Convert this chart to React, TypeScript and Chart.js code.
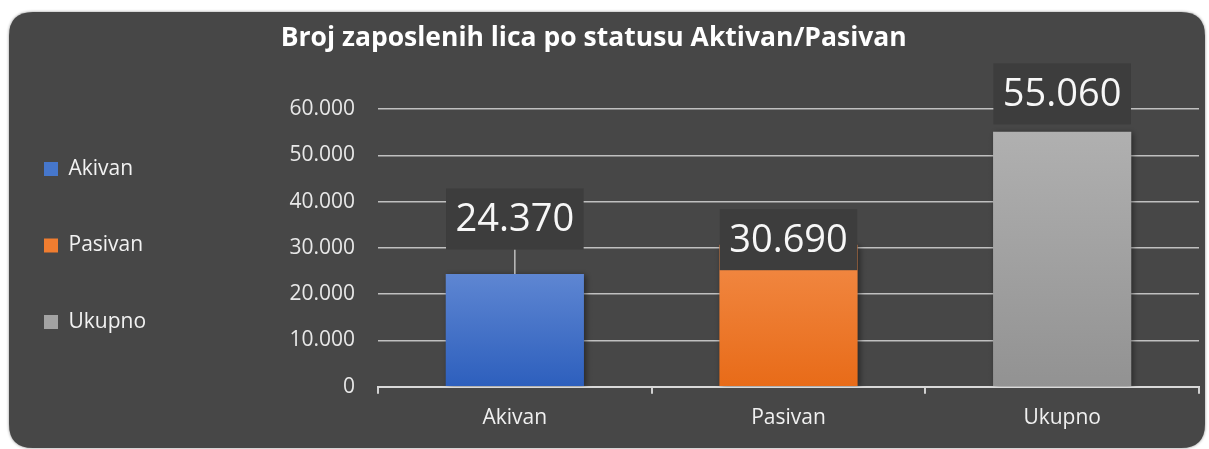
import React, { useEffect, useRef } from 'react';
import { Chart, registerables } from 'chart.js';

Chart.register(...registerables);

const categories = ['Akivan', 'Pasivan', 'Ukupno'];
const values = [24370, 30690, 55060];
const yTickLabels = ['0', '10.000', '20.000', '30.000', '40.000', '50.000', '60.000'];

const gradientTop = ['#5e86d2', '#f28b47', '#b0b0b0'];
const gradientBottom = ['#2d5fbd', '#e86b18', '#929292'];
const legendColors = ['#4677cc', '#f07d30', '#a3a3a3'];
// label box centre distance above bar top (px)
const labelOffsets = [55, 5, 38];

const LEGEND_PAD = 55.5;
const LEGEND_FONT = 21;
const PAD_LEFT = -11.5;
const PLOT_LEFT = 378;

const fmt = (v: number) => String(v).replace(/\B(?=(\d{3})+(?!\d))/g, '.');

function roundRectPath(ctx: CanvasRenderingContext2D, x: number, y: number, w: number, h: number, r: number) {
  ctx.beginPath();
  ctx.moveTo(x + r, y);
  ctx.lineTo(x + w - r, y);
  ctx.quadraticCurveTo(x + w, y, x + w, y + r);
  ctx.lineTo(x + w, y + h - r);
  ctx.quadraticCurveTo(x + w, y + h, x + w - r, y + h);
  ctx.lineTo(x + r, y + h);
  ctx.quadraticCurveTo(x, y + h, x, y + h - r);
  ctx.lineTo(x, y + r);
  ctx.quadraticCurveTo(x, y, x + r, y);
  ctx.closePath();
}

const bgPlugin = {
  id: 'bgPlugin',
  beforeDraw(chart: any) {
    const { ctx, width, height } = chart;
    ctx.save();
    ctx.fillStyle = '#ffffff';
    ctx.fillRect(0, 0, width, height);
    ctx.shadowColor = 'rgba(0,0,0,0.45)';
    ctx.shadowBlur = 3;
    roundRectPath(ctx, 9, 12, 1196, 436, 24);
    ctx.fillStyle = '#474747';
    ctx.fill();
    ctx.restore();
  },
};

const labelPlugin = {
  id: 'labelPlugin',
  beforeDatasetsDraw(chart: any) {
    const ctx = chart.ctx;
    ctx.save();
    ctx.shadowColor = 'rgba(0,0,0,0.45)';
    ctx.shadowBlur = 6;
    ctx.shadowOffsetX = 2;
    ctx.shadowOffsetY = 1;
  },
  afterDatasetsDraw(chart: any) {
    const ctx = chart.ctx;
    ctx.restore();
    const meta = chart.getDatasetMeta(0);
    ctx.save();
    ctx.font = '38px "Open Sans"';
    meta.data.forEach((bar: any, i: number) => {
      const text = fmt(values[i]);
      const tw = ctx.measureText(text).width;
      const bw = tw + 19;
      const bh = 61;
      const cx = bar.x;
      const cy = bar.y - labelOffsets[i];
      const top = cy - bh / 2;
      const bottom = cy + bh / 2;
      if (bar.y - bottom > 12) {
        ctx.strokeStyle = '#bfbfbf';
        ctx.lineWidth = 1.5;
        ctx.beginPath();
        ctx.moveTo(cx, bottom);
        ctx.lineTo(cx, bar.y);
        ctx.stroke();
      }
      ctx.fillStyle = '#3d3d3d';
      ctx.fillRect(cx - bw / 2, top, bw, bh);
      ctx.fillStyle = '#f7f7f7';
      ctx.textAlign = 'center';
      ctx.textBaseline = 'middle';
      ctx.fillText(text, cx, cy + 1);
    });
    ctx.restore();
  },
};

export default function App() {
  const ref = useRef<HTMLCanvasElement | null>(null);

  useEffect(() => {
    if (!ref.current) return;
    const chart = new Chart(ref.current, {
      type: 'bar',
      data: {
        labels: categories,
        datasets: [
          {
            data: values,
            backgroundColor: (c: any) => {
              const i = c.dataIndex ?? 0;
              const ch = c.chart;
              const ys = ch.scales && ch.scales.y;
              if (!ch.chartArea || !ys) return gradientTop[i];
              const g = ch.ctx.createLinearGradient(0, ys.getPixelForValue(values[i]), 0, ys.getPixelForValue(0));
              g.addColorStop(0, gradientTop[i]);
              g.addColorStop(1, gradientBottom[i]);
              return g;
            },
            borderWidth: 0,
            categoryPercentage: 1,
            barPercentage: 0.505,
          },
        ],
      },
      options: {
        responsive: false,
        animation: false,
        layout: { padding: { left: PAD_LEFT, top: 0, right: 10, bottom: 6 } },
        scales: {
          x: {
            grid: { drawOnChartArea: false, drawTicks: true, tickLength: 7, color: '#d0d0d0', lineWidth: 2, offset: true },
            border: { display: true, color: '#d9d9d9', width: 2 },
            ticks: { font: { family: 'Open Sans', size: 21 }, color: '#f0f0f0', padding: 12 },
          },
          y: {
            min: 0,
            max: 60000,
            ticks: {
              stepSize: 10000,
              callback: (v: any) => yTickLabels[Math.round(Number(v) / 10000)],
              font: { family: 'Open Sans', size: 21 },
              color: '#e8e8e8',
              padding: 23,
            },
            grid: { color: '#c0c0c0', lineWidth: 1.5, drawTicks: false },
            border: { display: false },
            afterFit: (s: any) => {
              const ctx = s.ctx;
              ctx.save();
              ctx.font = `${LEGEND_FONT}px "Open Sans"`;
              const maxW = Math.max(...categories.map((c) => ctx.measureText(c).width));
              ctx.restore();
              const legendW = LEGEND_PAD + 14 + LEGEND_FONT / 2 + maxW + 10;
              s.width = PLOT_LEFT - (PAD_LEFT + legendW);
            },
          },
        },
        plugins: {
          title: {
            display: true,
            text: 'Broj zaposlenih lica po statusu Aktivan/Pasivan',
            color: '#ffffff',
            font: { family: 'Open Sans', size: 26.5, weight: 'bold' },
            padding: { top: 23, bottom: 54.2 },
          },
          legend: {
            display: true,
            position: 'left',
            fullSize: true,
            align: 'center',
            title: { display: true, text: ' ', font: { size: 10 }, padding: { top: 36, bottom: 0 } },
            labels: {
              boxWidth: 14,
              boxHeight: 14,
              padding: LEGEND_PAD,
              color: '#f2f2f2',
              font: { family: 'Open Sans', size: LEGEND_FONT },
              generateLabels: () =>
                categories.map((c, i) => ({
                  text: c,
                  fillStyle: legendColors[i],
                  strokeStyle: legendColors[i],
                  lineWidth: 0,
                  hidden: false,
                  index: i,
                  fontColor: '#f2f2f2',
                })),
            },
          },
          tooltip: { enabled: false },
        },
      },
      plugins: [bgPlugin, labelPlugin],
    } as any);
    return () => chart.destroy();
  }, []);

  return (
    <div style={{ position: 'absolute', left: 0, top: 0, width: 1209, height: 449 }}>
      <canvas ref={ref} width={1209} height={449} />
    </div>
  );
}
